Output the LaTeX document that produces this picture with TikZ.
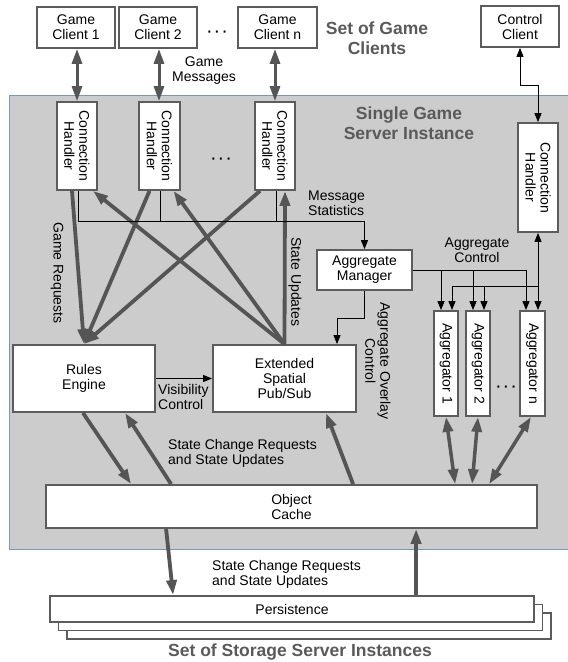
\documentclass[tikz,border=0pt]{standalone}
\usepackage{fontspec}
\setmainfont{Liberation Sans}
\usetikzlibrary{arrows.meta}
\definecolor{srvgray}{RGB}{204,204,204}
\definecolor{srvedge}{RGB}{120,150,195}
\definecolor{boxedge}{RGB}{92,92,92}
\definecolor{arrgray}{RGB}{85,85,85}
\definecolor{titlegray}{RGB}{90,90,90}
\newcommand{\mydots}{{\fontsize{20}{20}\selectfont\textperiodcentered\hspace{1pt}\textperiodcentered\hspace{1pt}\textperiodcentered}}
\tikzset{
  box/.style={draw=boxedge, line width=1.8pt, fill=white, inner sep=0pt, align=center, font=\fontsize{14}{15}\selectfont},
  txt/.style={font=\fontsize{14}{15}\selectfont, align=center, inner sep=0pt},
  ttl/.style={font=\fontsize{17.5}{20}\selectfont\bfseries, text=titlegray, align=center, inner sep=0pt},
  fat/.style={draw=arrgray, line width=3.8pt, -{Triangle[length=15pt,width=10pt]}},
  fatboth/.style={draw=arrgray, line width=3.5pt, {Triangle[length=15pt,width=10pt]}-{Triangle[length=15pt,width=10pt]}},
  gmboth/.style={draw=arrgray, line width=3pt, {Triangle[length=15pt,width=10pt]}-{Triangle[length=15pt,width=10pt]}},
  thinarr/.style={draw=black, line width=0.9pt, -{Triangle[length=9pt,width=7pt]}},
  thinboth/.style={draw=black, line width=0.9pt, {Triangle[length=9pt,width=7pt]}-{Triangle[length=9pt,width=7pt]}},
  thinline/.style={draw=black, line width=0.9pt},
}
\begin{document}
\begin{tikzpicture}[x=1pt,y=-1pt]
\useasboundingbox (0,0) rectangle (568,662);
% server region
\fill[srvgray] (9,95) rectangle (575,549);
\draw[srvedge, line width=0.8pt] (575,95) -- (9,95) -- (9,549) -- (575,549);

% clients
\node[box, minimum width=78pt, minimum height=41pt] (gc1) at (76,27.5) {Game\\Client 1};
\node[box, minimum width=78pt, minimum height=41pt] (gc2) at (158,27.5) {Game\\Client 2};
\node[box, minimum width=79pt, minimum height=41pt] (gcn) at (277.5,27.5) {Game\\Client n};
\node[box, minimum width=78pt, minimum height=41pt] (cc) at (520,26.5) {Control\\Client};
\node[txt] (d1) at (217,34) {\mydots};
\node[ttl] (sgc) at (377,38) {Set of Game\\Clients};
\node[txt] (gm) at (204,71) {Game\\Messages};
\node[ttl] (sgs) at (409,123) {Single Game\\Server Instance};

% connection handlers
\node[box, minimum width=40pt, minimum height=88pt] (ch1) at (77,146) {};
\node[box, minimum width=41pt, minimum height=88pt] (ch2) at (159.5,146) {};
\node[box, minimum width=40pt, minimum height=88pt] (chn) at (275,146) {};
\node[box, minimum width=40pt, minimum height=109pt] (chr) at (538,177.5) {};
\node[txt, rotate=-90] (ch1t) at (ch1) {Connection\\Handler};
\node[txt, rotate=-90] (ch2t) at (ch2) {Connection\\Handler};
\node[txt, rotate=-90] (chnt) at (chn) {Connection\\Handler};
\node[txt, rotate=-90] (chrt) at (chr) {Connection\\Handler};
\node[txt] (d2) at (221,161) {\mydots};

% middle components
\node[box, minimum width=95pt, minimum height=40pt] (mgr) at (364.5,270) {Aggregate\\Manager};
\node[box, minimum width=142pt, minimum height=67pt] (rules) at (84,378.5) {Rules\\Engine};
\node[box, minimum width=143pt, minimum height=67pt] (pubsub) at (284.5,378.5) {Extended\\Spatial\\Pub/Sub};
\node[box, minimum width=24pt, minimum height=105pt] (agg1) at (446,363.5) {};
\node[box, minimum width=24pt, minimum height=105pt] (agg2) at (478,363.5) {};
\node[box, minimum width=25pt, minimum height=105pt] (aggn) at (532.5,363.5) {};
\node[txt, rotate=-90] (agg1t) at (agg1) {Aggregator 1};
\node[txt, rotate=-90] (agg2t) at (agg2) {Aggregator 2};
\node[txt, rotate=-90] (aggnt) at (aggn) {Aggregator n};
\node[txt] (d3) at (506,389) {\mydots};

% cache and persistence
\node[box, minimum width=491pt, minimum height=43pt] (cache) at (291.5,506.5) {Object\\Cache};
\node[box, minimum width=484pt, minimum height=26pt] (pers3) at (309,626) {};
\node[box, minimum width=484pt, minimum height=26pt] (pers2) at (300.5,617.5) {};
\node[box, minimum width=484pt, minimum height=26pt] (pers) at (292,609) {Persistence};
\node[ttl] (sss) at (300,652) {Set of Storage Server Instances};

% labels
\node[txt, align=left, anchor=west] (ms) at (308,203.5) {Message\\Statistics};
\node[txt, rotate=-90] (gr) at (57,273) {Game Requests};
\node[txt, rotate=-90] (su) at (295,282) {State Updates};
\node[txt] (ac) at (477,250) {Aggregate\\Control};
\node[txt, rotate=-90] (aoc) at (378,361) {Aggregate Overlay\\Control};
\node[txt, align=left, anchor=west] (vc) at (158,397) {Visibility\\Control};
\node[txt, align=left, anchor=west] (scr1) at (168,453) {State Change Requests\\and State Updates};
\node[txt, align=left, anchor=west] (scr2) at (212,574.5) {State Change Requests\\and State Updates};

% game messages
\draw[gmboth] (ch1.north |- gc1.south) -- (ch1.north);
\draw[gmboth] ([xshift=-0.5pt]ch2.north |- gc2.south) -- ([xshift=-0.5pt]ch2.north);
\draw[gmboth] (chn.north |- gcn.south) -- (chn.north);
% control client
\draw[thinboth] (cc.south) -- ++(0,38) -| (chr.north);

% upper fat arrows
\draw[fat] ([xshift=-5pt]ch1.south) -- (rules.north);
\draw[fat] ([xshift=-10pt]ch2.south) -- (rules.north);
\draw[fat] ([xshift=-15pt]chn.south) -- (rules.north);
\draw[fat] (pubsub.north) -- ([xshift=16pt]ch1.south);
\draw[fat] (pubsub.north) -- ([xshift=14pt]ch2.south);
\draw[fat] (pubsub.north) -- ([xshift=10pt]chn.south);

% message statistics
\draw[thinarr] ([xshift=1pt]ch1.south) -- ++(0,31) -| (mgr.north);
\draw[thinline] ([xshift=0.5pt]ch2.south) -- ++(0,31);
\draw[thinline] ([xshift=1pt]chn.south) -- ++(0,31);

% aggregate control
\coordinate (a1l) at ([xshift=-5pt]agg1.north);
\coordinate (a1r) at ([xshift=6pt]agg1.north);
\coordinate (a2l) at ([xshift=-5pt]agg2.north);
\coordinate (a2r) at ([xshift=6pt]agg2.north);
\coordinate (anl) at ([xshift=-6.5pt]aggn.north);
\draw[thinarr] (mgr.east) -| (anl);
\draw[thinarr] (a1l |- mgr.east) -- (a1l);
\draw[thinarr] (a2l |- mgr.east) -- (a2l);
\draw[thinboth] (chr.south) -- (chr.south |- aggn.north);
\coordinate (cbus) at ([yshift=-54pt]chr.south);
\draw[thinarr] (cbus) -| (a1r);
\draw[thinarr] (a2r |- cbus) -- (a2r);

% manager -> pub/sub
\draw[thinarr] (mgr.south) -- ++(0,28) -| ([xshift=52.5pt]pubsub.north);
% visibility control
\draw[thinarr] (rules.east) -- (rules.east -| pubsub.west);

% lower fat arrows
\draw[fat] ([xshift=-1pt]rules.south) -- ([xshift=86pt]cache.north west);
\draw[fat] ([xshift=126pt]cache.north west) -- ([xshift=41pt]rules.south);
\draw[fat] ([xshift=308pt]cache.north west) -- ([xshift=41.5pt]pubsub.south);
\draw[fatboth] (agg1.south) -- ([xshift=410pt]cache.north west);
\draw[fatboth] (agg2.south) -- ([xshift=427pt]cache.north west);
\draw[fatboth] ([xshift=-1.5pt]aggn.south) -- ([xshift=444pt]cache.north west);
\draw[fat] ([xshift=121pt]cache.south west) -- ([xshift=124pt]pers.north west);
\draw[fat] ([xshift=367pt]pers.north west) -- ([xshift=371pt]cache.south west);
\end{tikzpicture}
\end{document}
